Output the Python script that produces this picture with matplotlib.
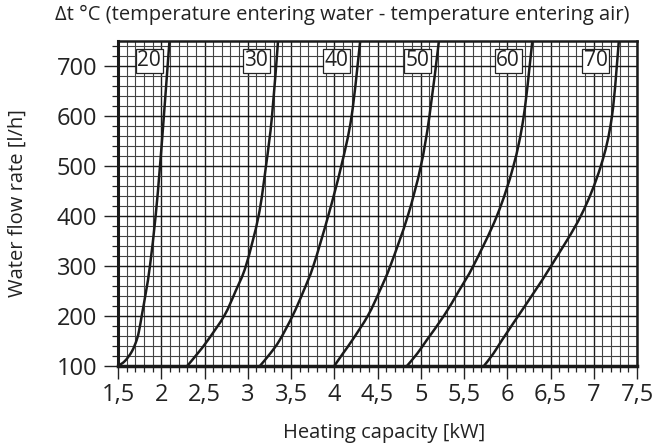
import matplotlib.pyplot as plt
from matplotlib.path import Path
from matplotlib.patches import PathPatch
from matplotlib.ticker import FixedLocator, FixedFormatter, MultipleLocator

plt.rcParams['font.family'] = ['Open Sans', 'DejaVu Sans']

# Δt curves: water flow rate (l/h) vs heating capacity (kW)
dt_labels = ['20', '30', '40', '50', '60', '70']
flow_20 = [100, 110, 129, 152, 172, 201, 250, 301, 400, 499, 599, 750]
flow = [100, 125, 152, 201, 250, 301, 400, 499, 599, 750]
capacity = {
    '20': [1.50, 1.58, 1.66, 1.716, 1.745, 1.775, 1.825, 1.87, 1.935, 1.985, 2.03, 2.095],
    '30': [2.30, 2.42, 2.54, 2.73, 2.86, 2.98, 3.125, 3.21, 3.28, 3.35],
    '40': [3.14, 3.26, 3.37, 3.52, 3.645, 3.76, 3.93, 4.08, 4.20, 4.30],
    '50': [4.00, 4.10, 4.21, 4.39, 4.525, 4.65, 4.85, 5.00, 5.10, 5.21],
    '60': [4.84, 4.96, 5.07, 5.27, 5.44, 5.61, 5.88, 6.07, 6.19, 6.29],
    '70': [5.73, 5.84, 5.94, 6.13, 6.32, 6.51, 6.85, 7.08, 7.21, 7.29],
}
label_x = [1.86, 3.10, 4.03, 4.96, 6.01, 7.02]
label_y = 710

x_ticks = [1.5, 2, 2.5, 3, 3.5, 4, 4.5, 5, 5.5, 6, 6.5, 7, 7.5]
x_ticklabels = ['1,5', '2', '2,5', '3', '3,5', '4', '4,5', '5', '5,5', '6', '6,5', '7', '7,5']
y_ticks = [100, 200, 300, 400, 500, 600, 700]


def smooth_path(xs, ys):
    # Catmull-Rom through the read points, drawn as cubic Bezier segments
    pts = list(zip(xs, ys))
    verts = [pts[0]]
    codes = [Path.MOVETO]
    for i in range(len(pts) - 1):
        p0 = pts[max(i - 1, 0)]
        p1 = pts[i]
        p2 = pts[i + 1]
        p3 = pts[min(i + 2, len(pts) - 1)]
        c1 = (p1[0] + (p2[0] - p0[0]) / 6, p1[1] + (p2[1] - p0[1]) / 6)
        c2 = (p2[0] - (p3[0] - p1[0]) / 6, p2[1] - (p3[1] - p1[1]) / 6)
        verts += [c1, c2, p2]
        codes += [Path.CURVE4] * 3
    return Path(verts, codes)


fig = plt.figure(figsize=(6.53, 4.48), dpi=100)
ax = fig.add_axes([118 / 653, 82 / 448, 519 / 653, 325 / 448])

for lab in dt_labels:
    ys = flow_20 if lab == '20' else flow
    ax.add_patch(PathPatch(smooth_path(capacity[lab], ys), fill=False,
                           ec='#1a1a1a', lw=1.8, zorder=3))

for lab, lx in zip(dt_labels, label_x):
    ax.text(lx, label_y, lab, ha='center', va='center', fontsize=15, color='#222222', zorder=4,
            bbox=dict(boxstyle='square,pad=0.08', fc='white', ec='#222222', lw=0.9))

ax.set_xlim(1.5, 7.5)
ax.set_ylim(100, 750)

ax.xaxis.set_major_locator(FixedLocator(x_ticks))
ax.xaxis.set_major_formatter(FixedFormatter(x_ticklabels))
ax.xaxis.set_minor_locator(MultipleLocator(0.1))
ax.yaxis.set_major_locator(FixedLocator(y_ticks))
ax.yaxis.set_minor_locator(MultipleLocator(20))

ax.grid(which='major', color='#1a1a1a', lw=1.0)
ax.grid(which='minor', color='#444444', lw=0.8)
ax.set_axisbelow(True)

ax.tick_params(axis='x', which='major', length=9.5, width=1.0, labelsize=17, pad=3, colors='#222222')
ax.tick_params(axis='x', which='minor', length=4.3, width=0.9, color='#222222')
ax.tick_params(axis='y', which='major', length=10, width=1.0, labelsize=17, pad=5, colors='#222222')
ax.tick_params(axis='y', which='minor', length=4.3, width=0.9, color='#222222')

ax.spines['left'].set_linewidth(2.2)
ax.spines['bottom'].set_linewidth(2.5)
ax.spines['top'].set_linewidth(1.8)
ax.spines['right'].set_linewidth(1.8)
for s in ax.spines.values():
    s.set_color('#1a1a1a')

fig.text(342 / 653, 1 - 15 / 448, 'Δt °C (temperature entering water - temperature entering air)',
         ha='center', va='center', fontsize=14.5, color='#222222')
fig.text(384 / 653, 1 - 433 / 448, 'Heating capacity [kW]', ha='center', va='center',
         fontsize=14.5, color='#222222')
fig.text(18 / 653, 1 - 203 / 448, 'Water flow rate [l/h]', ha='center', va='center',
         rotation=90, fontsize=14.5, color='#222222')

fig.savefig('out.png', dpi=100)
